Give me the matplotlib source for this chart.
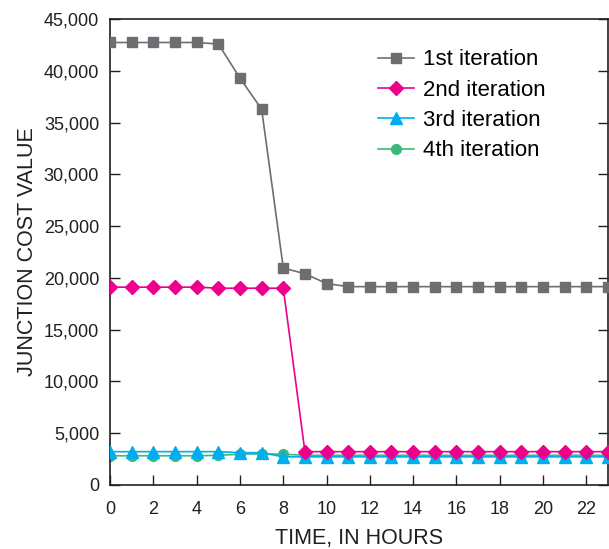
import matplotlib
matplotlib.use("Agg")
import matplotlib.pyplot as plt
from matplotlib.ticker import FuncFormatter

plt.rcParams['font.family'] = ['Liberation Sans', 'DejaVu Sans']

hours = list(range(24))
first = [42750, 42750, 42750, 42750, 42750, 42600, 39300, 36300, 20950, 20400, 19450,
         19150, 19150, 19150, 19150, 19150, 19150, 19150, 19150, 19150, 19150, 19150, 19150, 19150]
second = [19100, 19100, 19100, 19100, 19100, 19000, 19000, 19000, 19000] + [3200] * 15
third = [3200, 3200, 3200, 3200, 3200, 3200, 3100, 3100, 2700] + [2700] * 15
fourth = [2800, 2800, 2800, 2800, 2800, 2850, 2950, 3000, 2950] + [2850] * 15

fig = plt.figure(figsize=(6.09, 5.49), dpi=100)
ax = fig.add_axes([0.181, 0.117, 0.817, 0.848])

ax.plot(hours, first, color='#6d6e71', marker='s', markersize=7, lw=1.2, label='1st iteration', zorder=3)
ax.plot(hours, second, color='#ec008c', marker='D', markersize=7, lw=1.2, label='2nd iteration', zorder=4)
ax.plot(hours, third, color='#00aeef', marker='^', markersize=8, lw=1.2, label='3rd iteration', zorder=3)
ax.plot(hours, fourth, color='#3cb878', marker='o', markersize=7, lw=1.2, label='4th iteration', zorder=2)

ax.set_xlim(0, 23)
ax.set_ylim(0, 45000)
ax.set_xticks(range(0, 23, 2))
ax.set_yticks(range(0, 45001, 5000))
ax.yaxis.set_major_formatter(FuncFormatter(lambda v, p: f'{int(v):,}'))
ax.tick_params(direction='in', length=7, labelsize=13, colors='#231f20', right=True, width=1)
ax.tick_params(axis='x', pad=12)
ax.tick_params(axis='y', pad=8)
for s in ax.spines.values():
    s.set_color('#231f20')
    s.set_linewidth(1.2)

ax.set_xlabel('TIME, IN HOURS', fontsize=15.5, color='#231f20', labelpad=7)
ax.set_ylabel('JUNCTION COST VALUE', fontsize=15.5, color='#231f20', labelpad=4)

ax.legend(loc='upper right', bbox_to_anchor=(0.915, 0.978), frameon=False, fontsize=16,
          handlelength=1.6, handletextpad=0.4, labelspacing=0.42)

fig.savefig('out.png', dpi=100)
